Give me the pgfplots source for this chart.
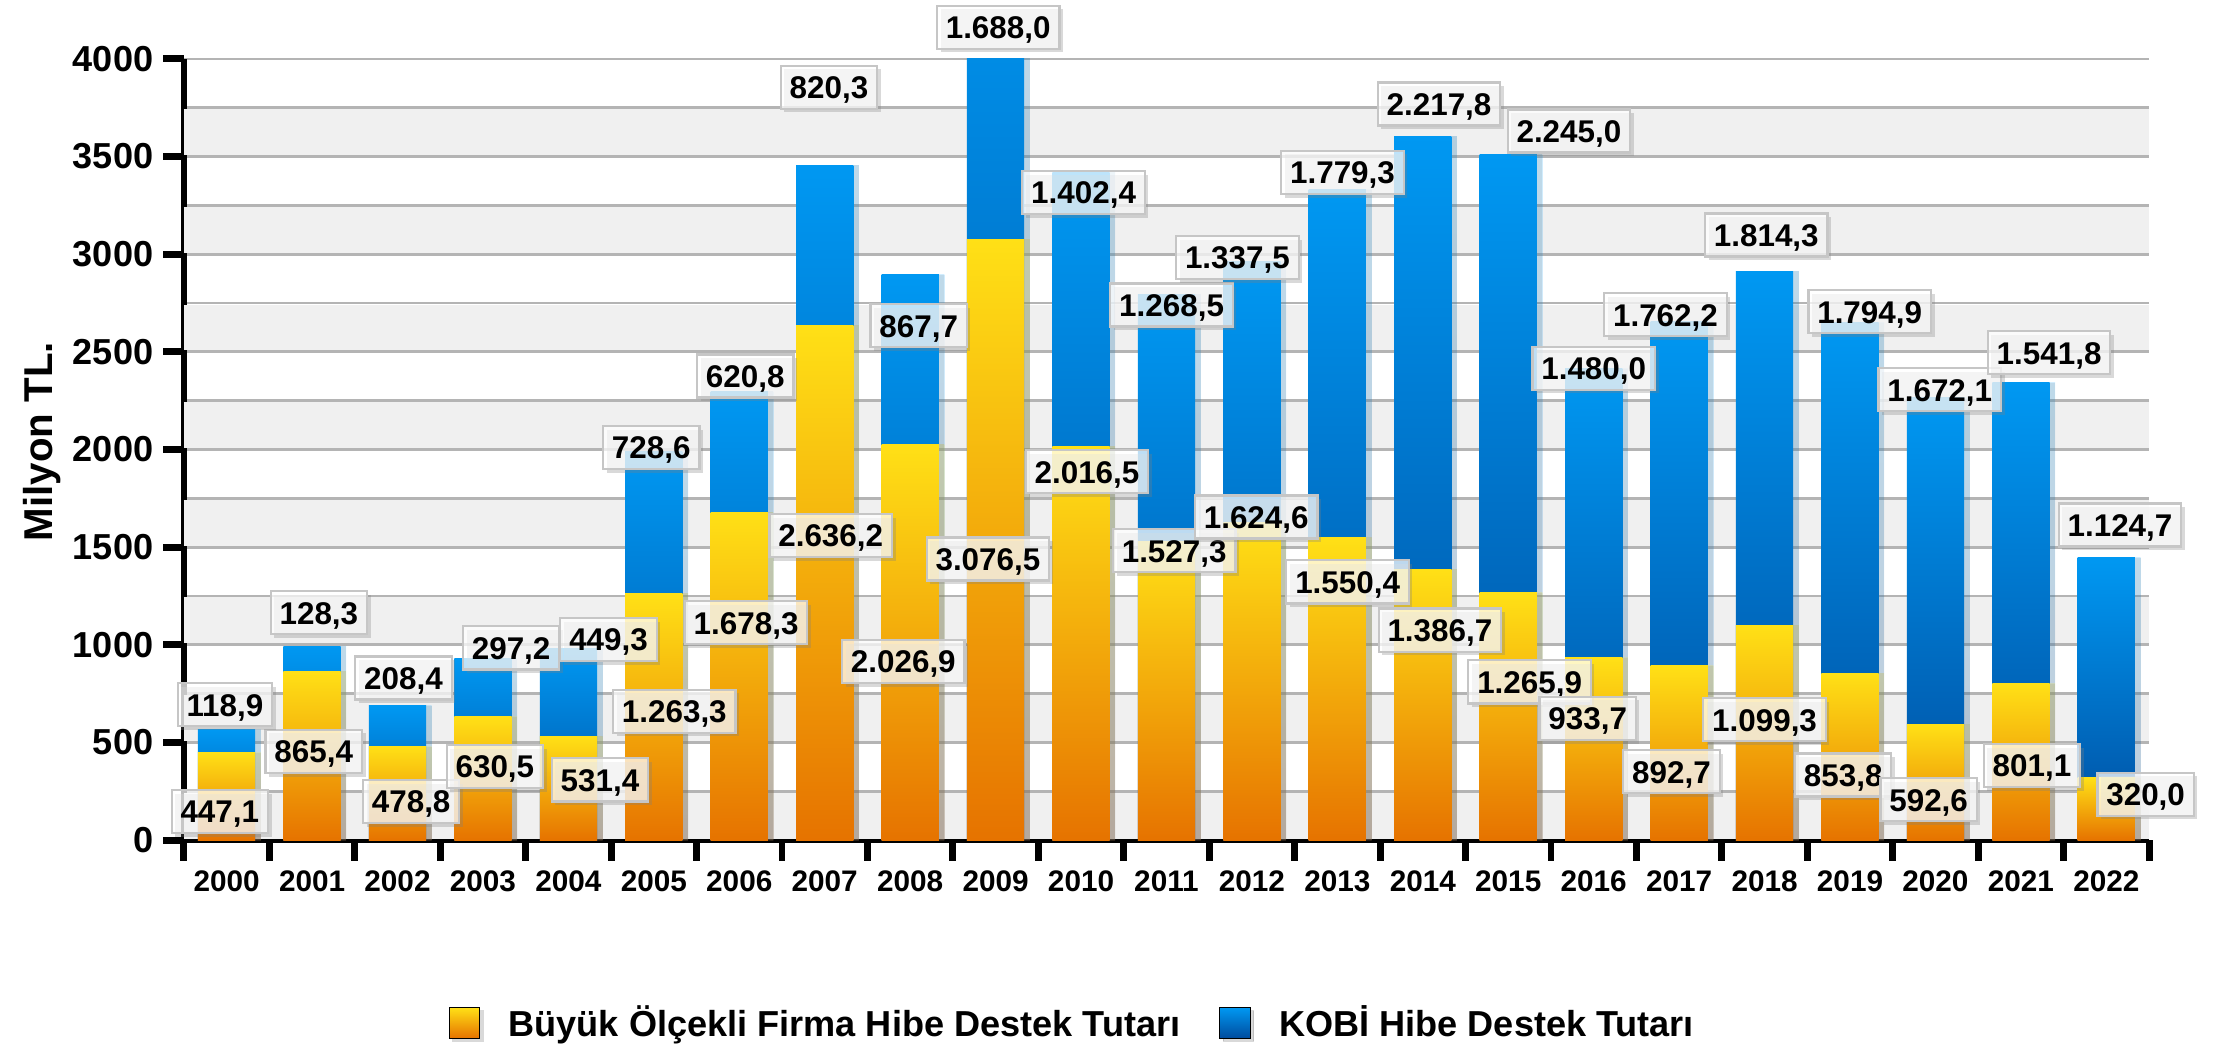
\documentclass[border=0pt]{standalone}
\usepackage{pgfplots}
\pgfplotsset{compat=1.18}
\usepackage{pgfplotstable}
\usepackage{fontspec}
\setmainfont{Liberation Sans}
\usetikzlibrary{shadows}
\definecolor{ylw}{HTML}{FFE016}
\definecolor{orgmid}{HTML}{F6B70C}
\definecolor{org}{HTML}{E67300}
\definecolor{bluetop}{HTML}{0098F2}
\definecolor{bluemid}{HTML}{0062BE}
\definecolor{bluebot}{HTML}{004C9E}
\definecolor{band}{HTML}{F0F0F0}
\definecolor{gridc}{HTML}{B4B4B4}

% b = Büyük Ölçekli Firma, k = KOBİ, t = total height of the stacked bar
\pgfplotstableread{
x b k t
0 447.1 118.9 566.0
1 865.4 128.3 993.7
2 478.8 208.4 687.2
3 630.5 297.2 927.7
4 531.4 449.3 980.7
5 1263.3 728.6 1991.9
6 1678.3 620.8 2299.1
7 2636.2 820.3 3456.5
8 2026.9 867.7 2894.6
9 3076.5 1688.0 4764.5
10 2016.5 1402.4 3418.9
11 1527.3 1268.5 2795.8
12 1624.6 1337.5 2962.1
13 1550.4 1779.3 3329.7
14 1386.7 2217.8 3604.5
15 1265.9 2245.0 3510.9
16 933.7 1480.0 2413.7
17 892.7 1762.2 2654.9
18 1099.3 1814.3 2913.6
19 853.8 1794.9 2648.7
20 592.6 1672.1 2264.7
21 801.1 1541.8 2342.9
22 320.0 1124.7 1444.7
}\datatable

\tikzset{lbl/.style={fill=white, fill opacity=0.74, text opacity=1, draw=gray!45, line width=0.8pt,
  inner xsep=3.2pt, inner ysep=0pt, text height=8.2pt, text depth=0pt, minimum height=15.5pt,
  font=\bfseries\fontsize{11.3}{11.3}\selectfont,
  drop shadow={shadow xshift=1.3pt, shadow yshift=-1.3pt, opacity=0.3}}}

\begin{document}
\begin{tikzpicture}[font=\bfseries]
\useasboundingbox (-66.2pt,-75.2pt) rectangle (733.3pt,302.4pt);
\begin{axis}[
  scale only axis, width=707.4pt, height=281.2pt,
  xmin=-0.5, xmax=22.5, ymin=0, ymax=4000,
  ybar, bar width=0.67, bar shift=0pt,
  clip mode=individual,
  axis x line*=bottom, axis y line*=left,
  axis line style={line width=2.4pt, black},
  tick align=outside,
  major tick length=7.5pt,
  minor tick length=0pt,
  tick style={line width=2.5pt, black},
  ytick={0,500,...,4000},
  minor ytick={250,750,...,3750},
  ymajorgrids, yminorgrids,
  major grid style={gridc, line width=1pt},
  minor grid style={gridc, line width=1pt},
  extra y ticks={125,625,1125,1625,2125,2625,3125,3625},
  extra y tick labels={},
  extra y tick style={major grid style={band, line width=16.5pt}, major tick length=0pt},
  /pgf/number format/assume math mode=true,
  /pgf/number format/1000 sep={},
  yticklabel style={font=\bfseries\fontsize{13}{13}\selectfont},
  xtick={-0.5,0.5,...,22.5},
  xticklabels={},
  extra x ticks={0,1,...,22},
  extra x tick labels={2000,2001,2002,2003,2004,2005,2006,2007,2008,2009,2010,2011,2012,2013,2014,2015,2016,2017,2018,2019,2020,2021,2022},
  extra x tick style={major tick length=0pt, grid=none, xticklabel style={font=\bfseries\fontsize{10.7}{10.7}\selectfont, yshift=-7.5pt}},
  ylabel={Milyon TL.},
  ylabel style={at={(axis description cs:-0.072,0.51)}, anchor=center, font=\bfseries\fontsize{14.5}{14.5}\selectfont},
  legend style={at={(axis description cs:0.453,-0.234)}, anchor=center, draw=none, fill=none,
    font=\bfseries\fontsize{13}{15}\selectfont,
    /tikz/every odd column/.append style={column sep=7pt},
    /tikz/every even column/.append style={column sep=12pt}},
  legend columns=2,
  legend cell align=left,
]
\addlegendimage{legend image code/.code={\fill[gray, opacity=0.3] (1.2pt,-6.7pt) rectangle (12.2pt,4.3pt);\fill[top color=ylw, bottom color=org] (0pt,-5.5pt) rectangle (11pt,5.5pt);}}
\addlegendentry{Büyük Ölçekli Firma Hibe Destek Tutarı}
\addlegendimage{legend image code/.code={\fill[gray, opacity=0.3] (1.2pt,-6.7pt) rectangle (12.2pt,4.3pt);\fill[top color=bluetop, bottom color=bluebot] (0pt,-5.5pt) rectangle (11pt,5.5pt);}}
\addlegendentry{KOBİ Hibe Destek Tutarı}

% KOBİ segment: drawn as the whole stacked bar, the lower segment covers it below
\pgfplotsinvokeforeach{0,...,22}{
\addplot[forget plot, draw=none, top color=bluetop, middle color=bluemid, bottom color=bluebot,
  drop shadow={shadow xshift=2pt, shadow yshift=0pt, opacity=0.18},
  restrict expr to domain={\coordindex}{#1:#1}]
  table[x=x, y=t] {\datatable};
}
% Büyük Ölçekli Firma segment
\pgfplotsinvokeforeach{0,...,22}{
\addplot[forget plot, draw=none, top color=ylw, middle color=orgmid, bottom color=org,
  drop shadow={shadow xshift=2pt, shadow yshift=0pt, opacity=0.18},
  restrict expr to domain={\coordindex}{#1:#1}]
  table[x=x, y=b] {\datatable};
}

% label anchors for the lower segment
\coordinate (o0) at (axis cs:-0.08,146);
\coordinate (o1) at (axis cs:1.02,454);
\coordinate (o2) at (axis cs:2.16,197);
\coordinate (o3) at (axis cs:3.14,377);
\coordinate (o4) at (axis cs:4.37,308);
\coordinate (o5) at (axis cs:5.24,660);
\coordinate (o6) at (axis cs:6.08,1113);
\coordinate (o7) at (axis cs:7.07,1559);
\coordinate (o8) at (axis cs:7.92,914);
\coordinate (o9) at (axis cs:8.91,1439);
\coordinate (o10) at (axis cs:10.07,1886);
\coordinate (o11) at (axis cs:11.09,1482);
\coordinate (o12) at (axis cs:12.05,1654);
\coordinate (o13) at (axis cs:13.12,1322);
\coordinate (o14) at (axis cs:14.20,1075);
\coordinate (o15) at (axis cs:15.25,810);
\coordinate (o16) at (axis cs:15.93,623);
\coordinate (o17) at (axis cs:16.91,350);
\coordinate (o18) at (axis cs:18.00,616);
\coordinate (o19) at (axis cs:18.92,333);
\coordinate (o20) at (axis cs:19.92,206);
\coordinate (o21) at (axis cs:21.13,382);
\coordinate (o22) at (axis cs:22.46,235);
% label anchors for the upper segment
\coordinate (k0) at (axis cs:-0.02,693);
\coordinate (k1) at (axis cs:1.08,1164);
\coordinate (k2) at (axis cs:2.07,830);
\coordinate (k3) at (axis cs:3.33,984);
\coordinate (k4) at (axis cs:4.47,1027);
\coordinate (k5) at (axis cs:4.97,2010);
\coordinate (k6) at (axis cs:6.07,2376);
\coordinate (k7) at (axis cs:7.05,3855);
\coordinate (k8) at (axis cs:8.10,2634);
\coordinate (k9) at (axis cs:9.03,4162);
\coordinate (k10) at (axis cs:10.03,3316);
\coordinate (k11) at (axis cs:11.06,2740);
\coordinate (k12) at (axis cs:11.83,2983);
\coordinate (k13) at (axis cs:13.06,3419);
\coordinate (k14) at (axis cs:14.19,3769);
\coordinate (k15) at (axis cs:15.71,3631);
\coordinate (k16) at (axis cs:16.00,2416);
\coordinate (k17) at (axis cs:16.84,2690);
\coordinate (k18) at (axis cs:18.02,3098);
\coordinate (k19) at (axis cs:19.23,2705);
\coordinate (k20) at (axis cs:20.05,2306);
\coordinate (k21) at (axis cs:21.33,2495);
\coordinate (k22) at (axis cs:22.16,1613);
\end{axis}

\node[lbl] at (o0) {447,1};
\node[lbl] at (o1) {865,4};
\node[lbl] at (o2) {478,8};
\node[lbl] at (o3) {630,5};
\node[lbl] at (o4) {531,4};
\node[lbl] at (o5) {1.263,3};
\node[lbl] at (o6) {1.678,3};
\node[lbl] at (o7) {2.636,2};
\node[lbl] at (o8) {2.026,9};
\node[lbl] at (o9) {3.076,5};
\node[lbl] at (o10) {2.016,5};
\node[lbl] at (o11) {1.527,3};
\node[lbl] at (o12) {1.624,6};
\node[lbl] at (o13) {1.550,4};
\node[lbl] at (o14) {1.386,7};
\node[lbl] at (o15) {1.265,9};
\node[lbl] at (o16) {933,7};
\node[lbl] at (o17) {892,7};
\node[lbl] at (o18) {1.099,3};
\node[lbl] at (o19) {853,8};
\node[lbl] at (o20) {592,6};
\node[lbl] at (o21) {801,1};
\node[lbl] at (o22) {320,0};

\node[lbl] at (k0) {118,9};
\node[lbl] at (k1) {128,3};
\node[lbl] at (k2) {208,4};
\node[lbl] at (k3) {297,2};
\node[lbl] at (k4) {449,3};
\node[lbl] at (k5) {728,6};
\node[lbl] at (k6) {620,8};
\node[lbl] at (k7) {820,3};
\node[lbl] at (k8) {867,7};
\node[lbl] at (k9) {1.688,0};
\node[lbl] at (k10) {1.402,4};
\node[lbl] at (k11) {1.268,5};
\node[lbl] at (k12) {1.337,5};
\node[lbl] at (k13) {1.779,3};
\node[lbl] at (k14) {2.217,8};
\node[lbl] at (k15) {2.245,0};
\node[lbl] at (k16) {1.480,0};
\node[lbl] at (k17) {1.762,2};
\node[lbl] at (k18) {1.814,3};
\node[lbl] at (k19) {1.794,9};
\node[lbl] at (k20) {1.672,1};
\node[lbl] at (k21) {1.541,8};
\node[lbl] at (k22) {1.124,7};
\end{tikzpicture}
\end{document}
